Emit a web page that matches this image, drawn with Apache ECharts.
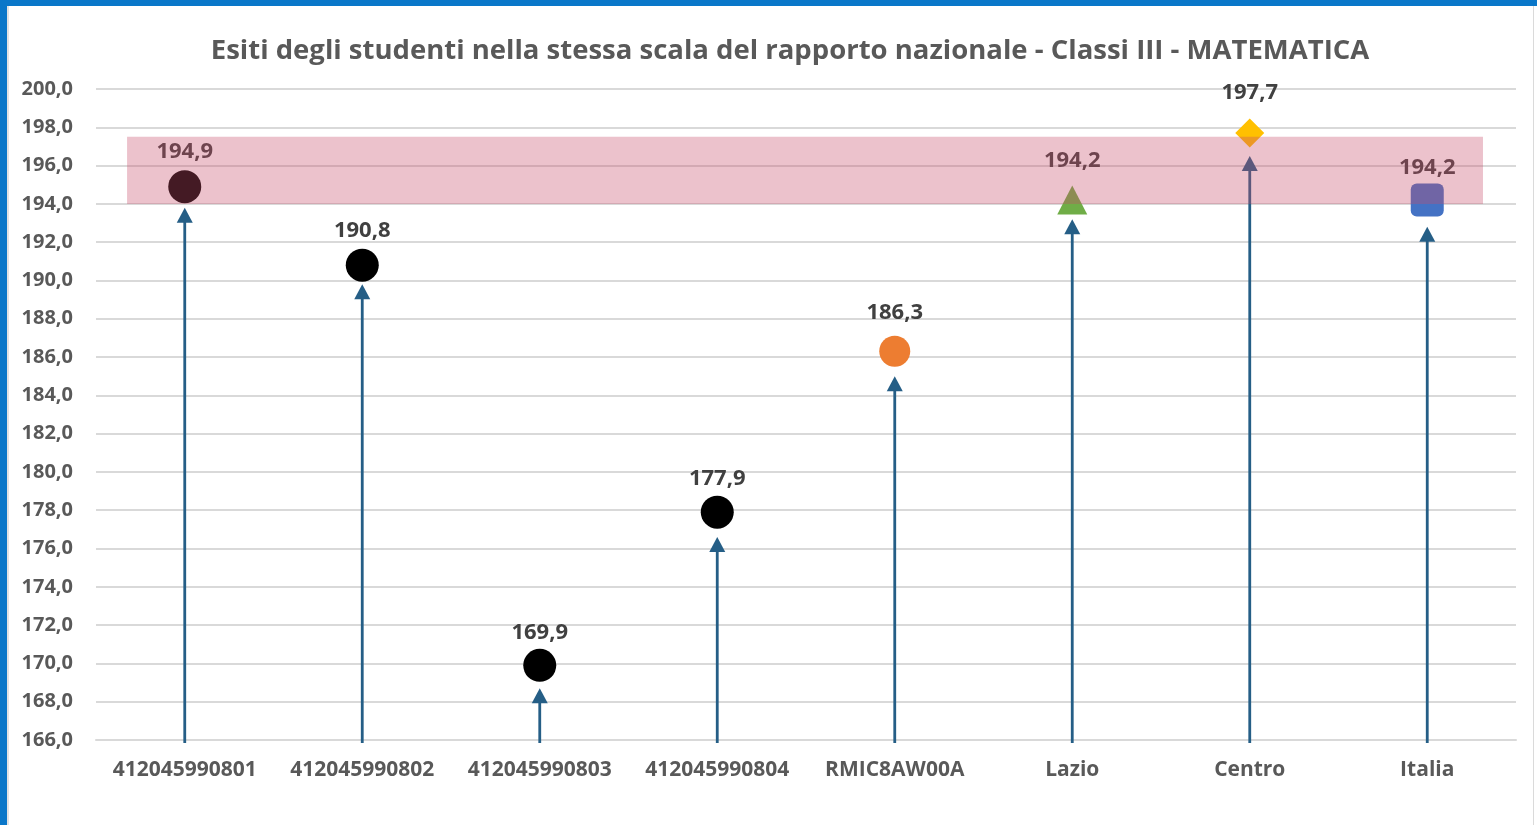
<!DOCTYPE html>
<html>
<head>
<meta charset="utf-8">
<title>Esiti degli studenti - Classi III - MATEMATICA</title>
<script src="https://cdn.jsdelivr.net/npm/echarts@6/dist/echarts.min.js"></script>
<style>
  html, body { margin: 0; padding: 0; background: #ffffff; overflow: hidden; }
  #frame {
    position: absolute; left: 0; top: 0; width: 1537px; height: 825px;
    box-sizing: border-box; border-top: 6px solid #0A77C9; border-left: 7px solid #0A77C9;
  }
  #inner {
    position: absolute; left: 7px; top: 6px; width: 1527px; height: 819px;
    box-sizing: border-box; border-left: 2px solid #E3E3E3; border-right: 1px solid #DADADA;
  }
  #chart { position: absolute; left: 0; top: 0; width: 1537px; height: 825px; }
</style>
</head>
<body>
<div id="frame"></div>
<div id="inner"></div>
<div id="chart"></div>
<script>
// Categories on the x axis
const categories = ['412045990801', '412045990802', '412045990803', '412045990804',
                    'RMIC8AW00A', 'Lazio', 'Centro', 'Italia'];
// Average score for each category
const scores = [194.9, 190.8, 169.9, 177.9, 186.3, 194.2, 197.7, 194.2];
// Height reached by the tip of each arrow
const arrowTops = [193.8, 189.8, 168.7, 176.6, 185.0, 193.2, 196.5, 192.8];
// Reference band (lower and upper value)
const bandRange = [194.0, 197.5];
// Y axis scale
const yMin = 166, yMax = 200, yStep = 2;

// Marker look for each point
const markerStyles = [
  { symbol: 'circle',    size: 33, color: '#000000', labelOffset: 34.5 },
  { symbol: 'circle',    size: 33, color: '#000000', labelOffset: 34 },
  { symbol: 'circle',    size: 33, color: '#000000', labelOffset: 33 },
  { symbol: 'circle',    size: 33, color: '#000000', labelOffset: 33.7 },
  { symbol: 'circle',    size: 31, color: '#ED7D31', labelOffset: 38.5 },
  { symbol: 'triangle',  size: [30, 29], color: '#70AD47', labelOffset: 39.5 },
  { symbol: 'diamond',   size: [29, 29], color: '#FFC000', labelOffset: 40 },
  { symbol: 'path://M6,0 H27 A6,6 0 0 1 33,6 V27 A6,6 0 0 1 27,33 H6 A6,6 0 0 1 0,27 V6 A6,6 0 0 1 6,0 Z',
    size: [33, 33], color: '#4472C4', labelOffset: 32 }
];

const fmt = v => v.toFixed(1).replace('.', ',');
const FONT = '"Open Sans", "Noto Sans", sans-serif';

const chart = echarts.init(document.getElementById('chart'), null, { renderer: 'canvas' });

const scatterData = scores.map((v, i) => {
  const s = markerStyles[i];
  return {
    value: [i, v],
    symbol: s.symbol,
    symbolSize: s.size,
    itemStyle: { color: s.color, opacity: 1 },
    label: { offset: [0, -s.labelOffset] }
  };
});

const option = {
  animation: false,
  title: {
    text: 'Esiti degli studenti nella stessa scala del rapporto nazionale - Classi III - MATEMATICA',
    left: 785, top: 32, textAlign: 'center',
    textStyle: { fontFamily: FONT, fontWeight: 'bold', fontSize: 27.5, color: '#595959' }
  },
  grid: { left: 96, right: 21, top: 89, bottom: 85, containLabel: false },
  xAxis: [
    {
      type: 'category', data: categories, boundaryGap: true,
      axisTick: { show: false },
      axisLine: { show: true, lineStyle: { color: '#D9D9D9', width: 2 } },
      axisLabel: { interval: 0, fontFamily: FONT, fontWeight: 'bold', fontSize: 21, color: '#595959', margin: 20 }
    },
    { type: 'value', min: -0.5, max: 7.5, show: false }
  ],
  yAxis: {
    type: 'value', min: yMin, max: yMax, interval: yStep,
    axisLine: { show: false }, axisTick: { show: false },
    splitLine: { lineStyle: { color: '#D9D9D9', width: 2 } },
    axisLabel: { formatter: fmt, fontFamily: FONT, fontWeight: 'bold', fontSize: 20, color: '#595959', margin: 23 }
  },
  series: [
    {
      // arrows rising from the base of the axis
      type: 'custom', xAxisIndex: 0, z: 2, clip: false,
      data: arrowTops.map((t, i) => [i, t]),
      renderItem: (params, api) => {
        const base = api.coord([api.value(0), yMin]);
        const tip = api.coord([api.value(0), api.value(1)]);
        const x = tip[0], headH = 15, headW = 16;
        return {
          type: 'group',
          children: [
            { type: 'line', shape: { x1: x, y1: base[1] + 3, x2: x, y2: tip[1] + headH - 1 },
              style: { stroke: '#255E86', lineWidth: 2.8 } },
            { type: 'polygon', shape: { points: [[x, tip[1]], [x - headW / 2, tip[1] + headH], [x + headW / 2, tip[1] + headH]] },
              style: { fill: '#255E86' } }
          ]
        };
      }
    },
    {
      type: 'scatter', xAxisIndex: 0, z: 3,
      data: scatterData,
      label: {
        show: true, position: 'inside',
        formatter: p => fmt(p.value[1]),
        fontFamily: FONT, fontWeight: 'bold', fontSize: 22, color: '#404040'
      }
    },
    {
      // translucent reference band drawn over the markers
      type: 'custom', xAxisIndex: 1, z: 10, silent: true,
      data: [[-0.325, 7.314, bandRange[0], bandRange[1]]],
      renderItem: (params, api) => {
        const p0 = api.coord([api.value(0), api.value(3)]);
        const p1 = api.coord([api.value(1), api.value(2)]);
        return {
          type: 'rect',
          shape: { x: p0[0], y: p0[1], width: p1[0] - p0[0], height: p1[1] - p0[1] },
          style: { fill: 'rgba(200,76,106,0.34)' }
        };
      }
    }
  ]
};

chart.setOption(option);
</script>
</body>
</html>
